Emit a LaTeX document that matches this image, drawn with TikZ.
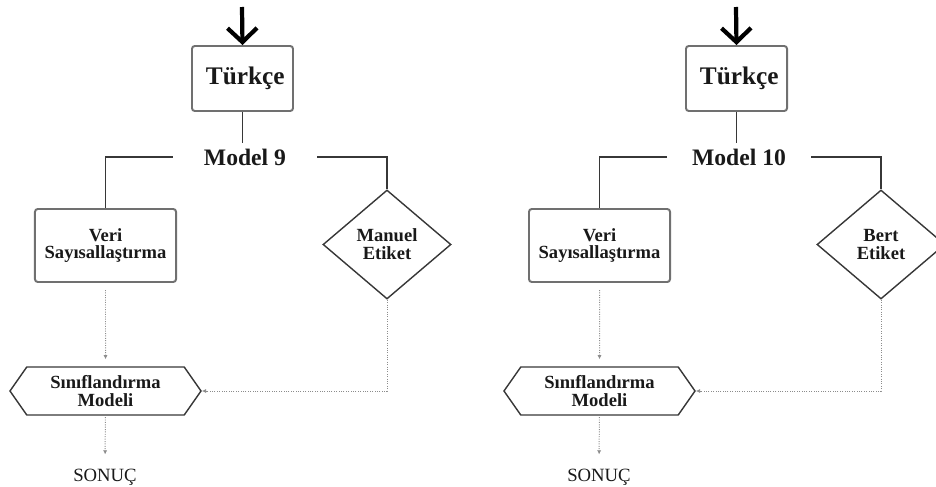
\documentclass[tikz,border=0pt]{standalone}
\usepackage{fontspec}
\setmainfont{Liberation Serif}
\usepackage{xcolor}
\usepackage{tikz}
\usetikzlibrary{arrows.meta,positioning,shapes.geometric,shapes.symbols}
\definecolor{boxgray}{RGB}{112,112,112}
\definecolor{linegray}{RGB}{55,55,55}
\definecolor{dotgray}{RGB}{140,140,140}
\definecolor{txt}{RGB}{25,25,25}
\newcommand{\boxfont}{\fontsize{13.2}{12.6}\selectfont\bfseries}
\tikzset{
  lang/.style ={rectangle,rounded corners=2pt,draw=boxgray,line width=1.4pt,minimum width=2.525cm,minimum height=1.625cm,inner sep=0pt,text=txt,font=\fontsize{18}{20}\selectfont\bfseries},
  mdl/.style  ={inner xsep=0.78cm,inner ysep=4pt,text=txt,font=\fontsize{16.8}{20}\selectfont\bfseries},
  prep/.style ={rectangle,rounded corners=2pt,draw=boxgray,line width=1.4pt,minimum width=3.525cm,minimum height=1.825cm,inner sep=0pt,align=center,text=txt,font=\boxfont},
  lbl/.style  ={diamond,draw=linegray,line width=1pt,minimum width=3.2cm,minimum height=2.725cm,inner sep=1pt,align=center,text=txt,font=\boxfont},
  cls/.style  ={signal,signal to=west and east,signal pointer angle=110,draw=linegray,line width=1pt,minimum width=4.775cm,minimum height=1.2cm,inner sep=0pt,align=center,text=txt,font=\boxfont},
  res/.style  ={inner sep=0pt,text=txt,font=\fontsize{13.3}{14}\selectfont},
  tree/.style ={linegray,line width=1pt},
  flow/.style ={dotgray,line width=0.7pt,densely dotted,-{Latex[length=3pt,width=3pt]}},
  inarr/.style={line width=3pt,-{Straight Barb[length=10pt,width=21pt]}},
}
\begin{document}
\begin{tikzpicture}[x=0.025cm,y=-0.025cm]
  \clip (0,0) rectangle (936,487);
  % Model 9
  \coordinate (in9) at (242,7);
  \node[lang] (tr9) at (242.5,78.5) {\hspace{4pt}Türkçe};
  \node[mdl] (m9) at (245,157) {Model 9};
  \node[prep] (veri9) at (105.5,245.5) {Veri\\Sayısallaştırma};
  \node[lbl] (man9) at (387,244.5) {Manuel\\Etiket};
  \node[cls] (cls9) at (105.5,391) {Sınıflandırma\\Modeli};
  \node[res] (res9) at (105,477) {SONUÇ};
  \draw[inarr] (in9) -- (tr9.north);
  \draw[tree] (tr9) -- (tr9 |- m9.north);
  \draw[tree] (m9.west) -| (veri9.north);
  \draw[tree] (m9.east) -| (man9.north);
  \draw[flow,shorten <=5pt,shorten >=5pt] (veri9) -- (cls9);
  \draw[flow] (man9.south) |- (cls9.east);
  \draw[flow,shorten <=1pt,shorten >=10pt] (cls9) -- (res9);
  % Model 10
  \coordinate (in10) at (736,7);
  \node[lang] (tr10) at (736.5,78.5) {\hspace{4pt}Türkçe};
  \node[mdl,inner xsep=0.62cm] (m10) at (739,157) {Model 10};
  \node[prep] (veri10) at (599.5,245.5) {Veri\\Sayısallaştırma};
  \node[lbl] (bert10) at (881,244.5) {Bert\\Etiket};
  \node[cls] (cls10) at (599.5,391) {Sınıflandırma\\Modeli};
  \node[res] (res10) at (599,477) {SONUÇ};
  \draw[inarr] (in10) -- (tr10.north);
  \draw[tree] (tr10) -- (tr10 |- m10.north);
  \draw[tree] (m10.west) -| (veri10.north);
  \draw[tree] (m10.east) -| (bert10.north);
  \draw[flow,shorten <=5pt,shorten >=5pt] (veri10) -- (cls10);
  \draw[flow] (bert10.south) |- (cls10.east);
  \draw[flow,shorten <=1pt,shorten >=10pt] (cls10) -- (res10);
\end{tikzpicture}
\end{document}
